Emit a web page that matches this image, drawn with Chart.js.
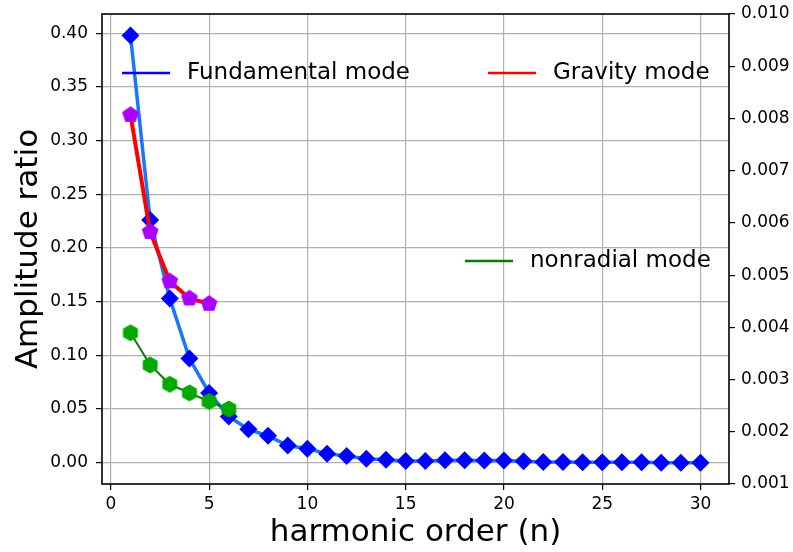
<!DOCTYPE html>
<html>
<head>
<meta charset="utf-8">
<script src="https://cdn.jsdelivr.net/npm/chart.js@4"></script>
<style>
  html, body { margin: 0; padding: 0; background: #fff; }
  canvas { display: block; }
</style>
</head>
<body>
<canvas id="chart" width="793" height="552"></canvas>
<script>
// harmonic order and amplitude ratio
const fundOrder = [1, 2, 3, 4, 5, 6, 7, 8, 9, 10, 11, 12, 13, 14, 15,
  16, 17, 18, 19, 20, 21, 22, 23, 24, 25, 26, 27, 28, 29, 30];
const fundAmp = [0.398, 0.226, 0.153, 0.097, 0.065, 0.043, 0.031, 0.025, 0.016, 0.013,
  0.0084, 0.0062, 0.0037, 0.0028, 0.0016, 0.0016, 0.0022, 0.0022, 0.0019, 0.0019,
  0.0012, 0.0006, 0.0006, 0.0003, 0.0003, 0.0003, 0.0003, 0.0, 0.0, 0.0];

const gravOrder = [1, 2, 3, 4, 5];
const gravAmp = [0.324, 0.215, 0.169, 0.153, 0.148];

const nonrOrder = [1, 2, 3, 4, 5, 6];
const nonrAmp = [0.121, 0.091, 0.073, 0.065, 0.057, 0.050];

// tick labels
const xTicks = [0, 5, 10, 15, 20, 25, 30];
const leftTicks = [0.00, 0.05, 0.10, 0.15, 0.20, 0.25, 0.30, 0.35, 0.40];
const rightTicks = [0.001, 0.002, 0.003, 0.004, 0.005, 0.006, 0.007, 0.008, 0.009, 0.010];

const FONT = "'DejaVu Sans', sans-serif";
Chart.defaults.font.family = FONT;
Chart.defaults.color = '#000';

// polygon markers (pentagon / hexagon, vertex up)
function polyMarker(sides, r, color) {
  const size = Math.ceil(r * 2 + 2);
  const c = document.createElement('canvas');
  c.width = size; c.height = size;
  const g = c.getContext('2d');
  g.fillStyle = color;
  g.beginPath();
  for (let i = 0; i < sides; i++) {
    const a = -Math.PI / 2 + i * 2 * Math.PI / sides;
    const px = size / 2 + r * Math.cos(a);
    const py = size / 2 + r * Math.sin(a);
    i ? g.lineTo(px, py) : g.moveTo(px, py);
  }
  g.closePath();
  g.fill();
  return c;
}
const pentagon = polyMarker(5, 8.8, '#aa00ff');
const hexagon = polyMarker(6, 8.6, '#00aa00');

const pts = (xs, ys) => xs.map((x, i) => ({ x: x, y: ys[i] }));

// fixed box sizes so the plot area sits where the original has it
const fixWidth = w => s => { s.width = w; s.paddingTop = 0; s.paddingBottom = 0; };

// frame round the plot area
const framePlugin = {
  id: 'frame',
  afterDatasetsDraw(chart) {
    const { ctx, chartArea: a } = chart;
    ctx.save();
    ctx.strokeStyle = '#000';
    ctx.lineWidth = 1.6;
    ctx.strokeRect(a.left, a.top, a.right - a.left, a.bottom - a.top);
    ctx.restore();
  }
};

// three loose legend entries, like the original
const legendPlugin = {
  id: 'looseLegend',
  afterDraw(chart) {
    const { ctx, chartArea: a } = chart;
    const items = [
      { text: 'Fundamental mode', color: '#0000ff', x: a.left + 20, y: a.top + 59 },
      { text: 'Gravity mode', color: '#ff0000', x: a.left + 386, y: a.top + 59 },
      { text: 'nonradial mode', color: '#008000', x: a.left + 363, y: a.top + 247 }
    ];
    ctx.save();
    ctx.font = '23px ' + FONT;
    ctx.textBaseline = 'middle';
    ctx.textAlign = 'left';
    items.forEach(it => {
      ctx.strokeStyle = it.color;
      ctx.lineWidth = 2.5;
      ctx.beginPath();
      ctx.moveTo(it.x, it.y);
      ctx.lineTo(it.x + 48, it.y);
      ctx.stroke();
      ctx.fillStyle = '#000';
      ctx.fillText(it.text, it.x + 65, it.y);
    });
    ctx.restore();
  }
};

new Chart(document.getElementById('chart'), {
  type: 'line',
  data: {
    datasets: [{
      label: 'Fundamental mode',
      data: pts(fundOrder, fundAmp),
      borderColor: '#1a75ff',
      borderWidth: 3.5,
      pointStyle: 'rectRot',
      pointRadius: 9,
      pointBackgroundColor: '#0000ff',
      pointBorderWidth: 0,
      yAxisID: 'y',
      order: 3
    }, {
      label: 'Gravity mode',
      data: pts(gravOrder, gravAmp),
      borderColor: '#ff0000',
      borderWidth: 4,
      pointStyle: pentagon,
      yAxisID: 'y',
      order: 2
    }, {
      label: 'nonradial mode',
      data: pts(nonrOrder, nonrAmp),
      borderColor: '#008000',
      borderWidth: 2,
      pointStyle: hexagon,
      yAxisID: 'y',
      order: 1
    }]
  },
  options: {
    responsive: false,
    animation: false,
    layout: { padding: { top: 14, left: 0, right: 0, bottom: 0 } },
    plugins: { legend: { display: false }, tooltip: { enabled: false } },
    elements: { line: { tension: 0 } },
    scales: {
      x: {
        type: 'linear',
        min: -0.45,
        max: 31.45,
        afterBuildTicks: s => { s.ticks = xTicks.map(v => ({ value: v })); },
        afterFit: s => { s.height = 68; s.paddingLeft = 0; s.paddingRight = 0; },
        grid: { color: '#b0b0b0', lineWidth: 1.2, tickColor: '#000', tickLength: 6 },
        border: { display: false },
        ticks: { font: { size: 17 }, padding: 4, maxRotation: 0, callback: v => String(v) },
        title: { display: true, text: 'harmonic order (n)', font: { size: 31 }, padding: { top: 0, bottom: 0 } }
      },
      y: {
        type: 'linear',
        position: 'left',
        min: -0.0199,
        max: 0.418,
        afterBuildTicks: s => { s.ticks = leftTicks.map(v => ({ value: v })); },
        afterFit: fixWidth(102),
        grid: { color: '#b0b0b0', lineWidth: 1.2, tickColor: '#000', tickLength: 6 },
        border: { display: false },
        ticks: { font: { size: 17 }, padding: 8, callback: v => v.toFixed(2) },
        title: { display: true, text: 'Amplitude ratio', font: { size: 31 }, padding: { top: 10, bottom: 0 } }
      },
      y2: {
        type: 'linear',
        position: 'right',
        min: 0.001,
        max: 0.010,
        afterBuildTicks: s => { s.ticks = rightTicks.map(v => ({ value: v })); },
        afterFit: fixWidth(64),
        grid: { drawOnChartArea: false, tickColor: '#000', tickLength: 6, lineWidth: 1.2 },
        border: { display: false },
        ticks: { font: { size: 17 }, padding: 6, callback: v => v.toFixed(3) }
      }
    }
  },
  plugins: [framePlugin, legendPlugin]
});
</script>
</body>
</html>
